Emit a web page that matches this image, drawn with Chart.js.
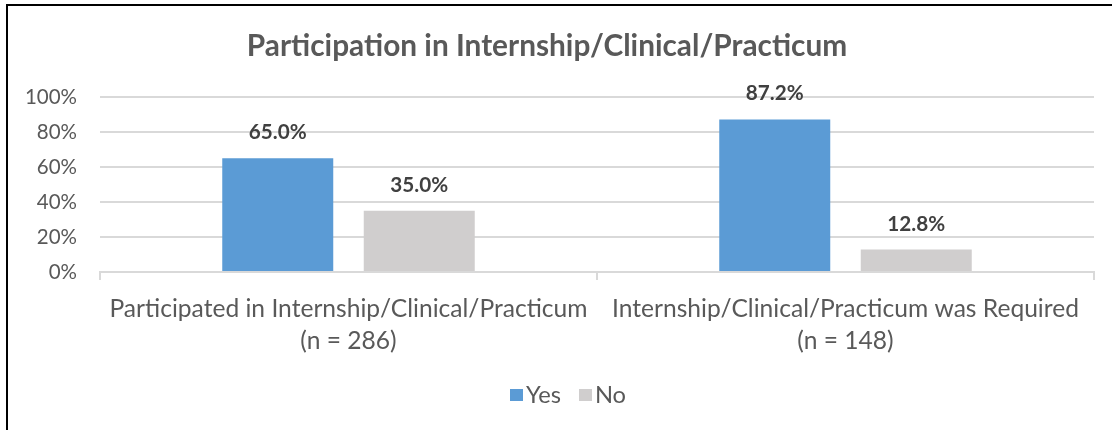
<!DOCTYPE html>
<html><head><meta charset="utf-8">
<script src="https://cdn.jsdelivr.net/npm/chart.js@4.4.1/dist/chart.umd.min.js"></script>
<style>
html,body{margin:0;padding:0;background:#fff;overflow:hidden;}
#wrap{position:relative;width:1112px;height:430px;background:#fff;}
#frame{position:absolute;left:6px;top:4px;width:1120px;height:440px;border-left:2px solid #000;border-top:2px solid #000;pointer-events:none;}
canvas{display:block;}
</style></head><body>
<div id="wrap"><canvas id="c" width="1112" height="430"></canvas><div id="frame"></div></div>
<script>
const chartTitle = 'Participation in Internship/Clinical/Practicum';
const categories = [
  ['Participated in Internship/Clinical/Practicum', '(n = 286)'],
  ['Internship/Clinical/Practicum was Required', '(n = 148)']
];
const seriesNames = ['Yes', 'No'];
const yesValues = [65.0, 87.2];
const noValues = [35.0, 12.8];
const yTickValues = [0, 20, 40, 60, 80, 100];

const FAMILY = 'Lato';
function fitSize(text, weight, target) {
  const ctx = document.createElement('canvas').getContext('2d');
  ctx.font = weight + ' 100px ' + FAMILY;
  return Math.round(100 * target / ctx.measureText(text).width * 10) / 10;
}
const titleSize = fitSize(chartTitle, 'bold', 600);
const yTickSize = fitSize('100%', 'normal', 52);
const xTickSize = fitSize(categories[0][0], 'normal', 478);
const dataSize = fitSize('65.0%', 'bold', 58);
const legendSize = fitSize('Yes', 'normal', 35);

const titleLH = titleSize * 1.2;
const TEXT = '#595959';

const dataLabels = {
  id: 'dataLabels',
  afterDatasetsDraw(chart) {
    const ctx = chart.ctx;
    ctx.save();
    ctx.font = 'bold ' + dataSize + 'px ' + FAMILY;
    ctx.fillStyle = '#404040';
    ctx.textAlign = 'center';
    ctx.textBaseline = 'alphabetic';
    chart.data.datasets.forEach((ds, i) => {
      chart.getDatasetMeta(i).data.forEach((bar, j) => {
        ctx.fillText(ds.data[j].toFixed(1) + '%', bar.x, bar.y - 19);
      });
    });
    ctx.restore();
  }
};

const bottomLegend = {
  id: 'bottomLegend',
  afterDraw(chart) {
    const ctx = chart.ctx;
    ctx.save();
    ctx.font = legendSize + 'px ' + FAMILY;
    ctx.textBaseline = 'middle';
    ctx.textAlign = 'left';
    const boxW = 13, boxH = 12, gap = 3, spacing = 18, cy = 395;
    const items = chart.data.datasets.map(ds => ({ text: ds.label, color: ds.backgroundColor, w: ctx.measureText(ds.label).width }));
    const total = items.reduce((a, it) => a + boxW + gap + it.w, 0) + spacing * (items.length - 1);
    let x = 568 - total / 2;
    items.forEach(it => {
      ctx.fillStyle = it.color;
      ctx.fillRect(Math.round(x), cy - boxH / 2, boxW, boxH);
      ctx.fillStyle = TEXT;
      ctx.fillText(it.text, x + boxW + gap, cy);
      x += boxW + gap + it.w + spacing;
    });
    ctx.restore();
  }
};

new Chart(document.getElementById('c'), {
  type: 'bar',
  data: {
    labels: categories,
    datasets: [
      { label: seriesNames[0], data: yesValues, backgroundColor: '#5B9BD5', borderWidth: 0 },
      { label: seriesNames[1], data: noValues, backgroundColor: '#D0CECE', borderWidth: 0 }
    ]
  },
  options: {
    responsive: false,
    animation: false,
    devicePixelRatio: 1,
    layout: { padding: { left: 0, right: 18, top: 0, bottom: 56 } },
    datasets: { bar: { categoryPercentage: 0.5694, barPercentage: 0.7845 } },
    plugins: {
      tooltip: { enabled: false },
      title: {
        display: true,
        text: chartTitle,
        color: TEXT,
        font: { family: FAMILY, size: titleSize, weight: 'bold', lineHeight: 1.2 },
        padding: { top: 46 - titleLH / 2, bottom: 97 - 46 - titleLH / 2 }
      },
      legend: { display: false }
    },
    scales: {
      x: {
        grid: { offset: true, drawOnChartArea: false, drawTicks: true, tickLength: 8, color: '#D9D9D9', lineWidth: 2 },
        border: { display: true, color: '#D9D9D9', width: 2 },
        ticks: { color: TEXT, padding: 13, maxRotation: 0, autoSkip: false,
          font: { family: FAMILY, size: xTickSize, lineHeight: 32 / xTickSize } },
        afterFit(s) { s.height = 102; }
      },
      y: {
        min: 0, max: 100,
        afterBuildTicks(s) { s.ticks = yTickValues.map(v => ({ value: v })); },
        grid: { color: '#D9D9D9', lineWidth: 2, drawTicks: false },
        border: { display: false },
        ticks: { color: TEXT, padding: 23, callback: v => v + '%',
          font: { family: FAMILY, size: yTickSize } },
        afterFit(s) { s.width = 100; }
      }
    }
  },
  plugins: [dataLabels, bottomLegend]
});
</script>
</body></html>
